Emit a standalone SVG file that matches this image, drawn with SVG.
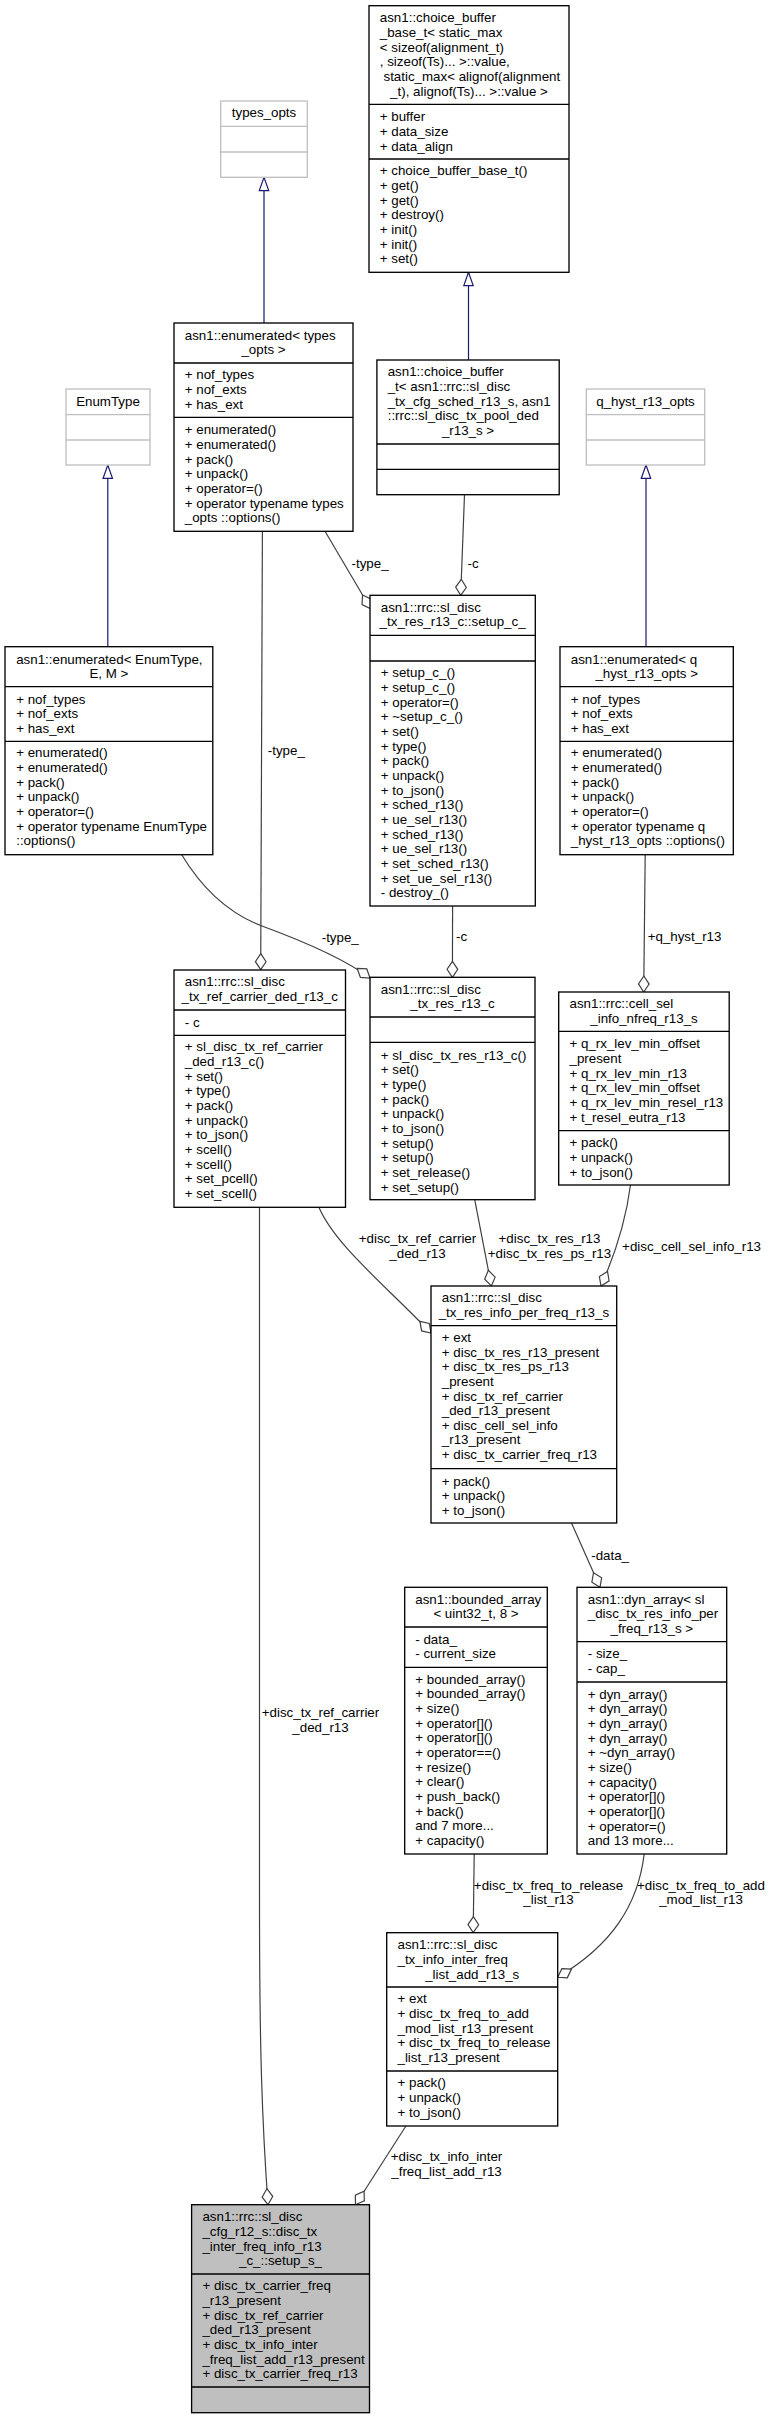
<svg xmlns="http://www.w3.org/2000/svg" width="772" height="2419" viewBox="0 0 772 2419">
<style>
text{font-family:"Liberation Sans",Arial,Helvetica,sans-serif;font-size:13.33px;fill:#000}
.m{text-anchor:middle}
.box{fill:#fff;stroke:#000;stroke-width:1.33}
.gbox{fill:#fff;stroke:#bfbfbf;stroke-width:1.33}
.sel{fill:#bfbfbf;stroke:#000;stroke-width:1.33}
.sep{stroke:#000;stroke-width:1.33}
.gsep{stroke:#bfbfbf;stroke-width:1.33}
.agg{fill:none;stroke:#404040;stroke-width:1.2;marker-end:url(#dia)}
.inh{fill:none;stroke:#191970;stroke-width:1.2;marker-end:url(#tri)}
</style>
<defs>
<marker id="dia" markerUnits="userSpaceOnUse" markerWidth="18" markerHeight="12" refX="16" refY="6" orient="auto" overflow="visible">
<path d="M0,6 L8,0.67 L16,6 L8,11.33 Z" fill="#fff" stroke="#404040" stroke-width="1.2"/>
</marker>
<marker id="tri" markerUnits="userSpaceOnUse" markerWidth="15" markerHeight="12" refX="13.3" refY="6" orient="auto" overflow="visible">
<path d="M0,1.3 L13.3,6 L0,10.7 Z" fill="#fff" stroke="#191970" stroke-width="1.2"/>
</marker>
</defs>
<rect width="772" height="2419" fill="#fff"/>

<g id="edges">
<path class="inh" d="M264,323 L264,177.3"/>
<path class="inh" d="M468.5,360 L468.5,272.3"/>
<path class="inh" d="M107.8,646.7 L107.8,465"/>
<path class="inh" d="M646,646.7 L646,465"/>
<path class="agg" d="M325,531.3 L370.7,608.7"/>
<path class="agg" d="M464.5,494.7 L460.7,595.3"/>
<path class="agg" d="M262.4,531.3 L260.7,969.7"/>
<path class="agg" d="M181.7,854.7 C200,885 225,912 262,926 C300,940 342,957 370,978"/>
<path class="agg" d="M452.6,906 L452.4,977.3"/>
<path class="agg" d="M645.2,854.7 L643.7,992"/>
<path class="agg" d="M318.9,1207.3 C335,1245 385,1285 431,1333"/>
<path class="agg" d="M474.7,1199.7 L491.4,1286"/>
<path class="agg" d="M630.5,1185 C626,1220 617,1250 601,1286"/>
<path class="agg" d="M571.5,1523 L600,1587.3"/>
<path class="agg" d="M259.5,1207.3 L259.5,1900 C259.5,2050 262,2120 268,2204.7"/>
<path class="agg" d="M474.2,1854 L473.2,1932.7"/>
<path class="agg" d="M644.2,1854 C638,1905 612,1945 557.7,1977.3"/>
<path class="agg" d="M405.9,2126 L355.5,2204.7"/>
<text x="351.5" y="567.8">-type_</text>
<text x="467.5" y="567.8">-c</text>
<text x="267.8" y="754.5">-type_</text>
<text x="321.7" y="942.2">-type_</text>
<text x="456" y="941.2">-c</text>
<text x="647.7" y="941.2">+q_hyst_r13</text>
<text class="m" x="417.5" y="1242.8">+disc_tx_ref_carrier</text>
<text class="m" x="417.5" y="1257.5">_ded_r13</text>
<text class="m" x="549.5" y="1242.8">+disc_tx_res_r13</text>
<text class="m" x="549.5" y="1257.5">+disc_tx_res_ps_r13</text>
<text x="622.1" y="1250.5">+disc_cell_sel_info_r13</text>
<text x="591.2" y="1559.5">-data_</text>
<text class="m" x="320.5" y="1717.2">+disc_tx_ref_carrier</text>
<text class="m" x="320.5" y="1731.9">_ded_r13</text>
<text class="m" x="548.5" y="1889.5">+disc_tx_freq_to_release</text>
<text class="m" x="548.5" y="1904.2">_list_r13</text>
<text class="m" x="701" y="1889.5">+disc_tx_freq_to_add</text>
<text class="m" x="701" y="1904.2">_mod_list_r13</text>
<text class="m" x="446.5" y="2161.2">+disc_tx_info_inter</text>
<text class="m" x="446.5" y="2175.9">_freq_list_add_r13</text>
</g>

<g id="choice_buffer_base">
<rect class="box" x="369" y="5.7" width="200" height="266.6"/>
<line class="sep" x1="369" y1="104.3" x2="569" y2="104.3"/>
<line class="sep" x1="369" y1="159" x2="569" y2="159"/>
<text x="379.8" y="22.2">asn1::choice_buffer</text>
<text x="379.8" y="36.8">_base_t&lt; static_max</text>
<text x="379.8" y="51.5">&lt; sizeof(alignment_t)</text>
<text x="379.8" y="66.2">, sizeof(Ts)... &gt;::value,</text>
<text x="383.5" y="80.8">static_max&lt; alignof(alignment</text>
<text class="m" x="469" y="95.5">_t), alignof(Ts)... &gt;::value &gt;</text>
<text x="379.8" y="121.2">+ buffer</text>
<text x="379.8" y="135.8">+ data_size</text>
<text x="379.8" y="150.5">+ data_align</text>
<text x="379.8" y="175.2">+ choice_buffer_base_t()</text>
<text x="379.8" y="189.9">+ get()</text>
<text x="379.8" y="204.5">+ get()</text>
<text x="379.8" y="219.2">+ destroy()</text>
<text x="379.8" y="233.9">+ init()</text>
<text x="379.8" y="248.5">+ init()</text>
<text x="379.8" y="263.2">+ set()</text>
</g>

<g id="types_opts">
<rect class="gbox" x="220.7" y="101" width="86.6" height="76.3"/>
<line class="gsep" x1="220.7" y1="126.3" x2="307.3" y2="126.3"/>
<line class="gsep" x1="220.7" y1="152" x2="307.3" y2="152"/>
<text class="m" x="264" y="117.2">types_opts</text>
</g>

<g id="enumerated_types_opts">
<rect class="box" x="174" y="323" width="179" height="208.3"/>
<line class="sep" x1="174" y1="363" x2="353" y2="363"/>
<line class="sep" x1="174" y1="417.3" x2="353" y2="417.3"/>
<text x="184.8" y="339.5">asn1::enumerated&lt; types</text>
<text class="m" x="263.5" y="354.2">_opts &gt;</text>
<text x="184.8" y="379.2">+ nof_types</text>
<text x="184.8" y="393.8">+ nof_exts</text>
<text x="184.8" y="408.5">+ has_ext</text>
<text x="184.8" y="434.2">+ enumerated()</text>
<text x="184.8" y="448.8">+ enumerated()</text>
<text x="184.8" y="463.5">+ pack()</text>
<text x="184.8" y="478.2">+ unpack()</text>
<text x="184.8" y="492.8">+ operator=()</text>
<text x="184.8" y="507.5">+ operator typename types</text>
<text x="184.8" y="522.2">_opts ::options()</text>
</g>

<g id="choice_buffer_t">
<rect class="box" x="376.9" y="360" width="182.3" height="134.7"/>
<line class="sep" x1="376.9" y1="444" x2="559.2" y2="444"/>
<line class="sep" x1="376.9" y1="469.3" x2="559.2" y2="469.3"/>
<text x="387.7" y="376.2">asn1::choice_buffer</text>
<text x="387.7" y="390.8">_t&lt; asn1::rrc::sl_disc</text>
<text x="387.7" y="405.5">_tx_cfg_sched_r13_s, asn1</text>
<text x="387.7" y="420.2">::rrc::sl_disc_tx_pool_ded</text>
<text class="m" x="468" y="434.8">_r13_s &gt;</text>
</g>

<g id="EnumType">
<rect class="gbox" x="66" y="389" width="84" height="76"/>
<line class="gsep" x1="66" y1="414.7" x2="150" y2="414.7"/>
<line class="gsep" x1="66" y1="440" x2="150" y2="440"/>
<text class="m" x="108" y="405.5">EnumType</text>
</g>

<g id="q_hyst_r13_opts">
<rect class="gbox" x="586.3" y="389" width="118.4" height="76"/>
<line class="gsep" x1="586.3" y1="414.7" x2="704.7" y2="414.7"/>
<line class="gsep" x1="586.3" y1="440" x2="704.7" y2="440"/>
<text class="m" x="645.5" y="405.5">q_hyst_r13_opts</text>
</g>

<g id="setup_c">
<rect class="box" x="370" y="595.3" width="165.3" height="310.7"/>
<line class="sep" x1="370" y1="635.3" x2="535.3" y2="635.3"/>
<line class="sep" x1="370" y1="661" x2="535.3" y2="661"/>
<text x="380.8" y="611.5">asn1::rrc::sl_disc</text>
<text class="m" x="452.6" y="626.2">_tx_res_r13_c::setup_c_</text>
<text x="380.8" y="677.2">+ setup_c_()</text>
<text x="380.8" y="691.9">+ setup_c_()</text>
<text x="380.8" y="706.5">+ operator=()</text>
<text x="380.8" y="721.2">+ ~setup_c_()</text>
<text x="380.8" y="735.9">+ set()</text>
<text x="380.8" y="750.5">+ type()</text>
<text x="380.8" y="765.2">+ pack()</text>
<text x="380.8" y="779.9">+ unpack()</text>
<text x="380.8" y="794.5">+ to_json()</text>
<text x="380.8" y="809.2">+ sched_r13()</text>
<text x="380.8" y="823.9">+ ue_sel_r13()</text>
<text x="380.8" y="838.5">+ sched_r13()</text>
<text x="380.8" y="853.2">+ ue_sel_r13()</text>
<text x="380.8" y="867.9">+ set_sched_r13()</text>
<text x="380.8" y="882.5">+ set_ue_sel_r13()</text>
<text x="380.8" y="897.2">- destroy_()</text>
</g>

<g id="enumerated_EnumType">
<rect class="box" x="5" y="646.7" width="207.8" height="208"/>
<line class="sep" x1="5" y1="686.7" x2="212.8" y2="686.7"/>
<line class="sep" x1="5" y1="741.3" x2="212.8" y2="741.3"/>
<text x="16.2" y="663.5">asn1::enumerated&lt; EnumType,</text>
<text class="m" x="108.9" y="678.2">E, M &gt;</text>
<text x="16.2" y="703.5">+ nof_types</text>
<text x="16.2" y="718.2">+ nof_exts</text>
<text x="16.2" y="732.8">+ has_ext</text>
<text x="16.2" y="757.2">+ enumerated()</text>
<text x="16.2" y="771.9">+ enumerated()</text>
<text x="16.2" y="786.5">+ pack()</text>
<text x="16.2" y="801.2">+ unpack()</text>
<text x="16.2" y="815.9">+ operator=()</text>
<text x="16.2" y="830.5">+ operator typename EnumType</text>
<text x="16.2" y="845.2">::options()</text>
</g>

<g id="enumerated_q_hyst">
<rect class="box" x="560" y="646.7" width="173.3" height="208"/>
<line class="sep" x1="560" y1="686.7" x2="733.3" y2="686.7"/>
<line class="sep" x1="560" y1="741.3" x2="733.3" y2="741.3"/>
<text x="570.8" y="663.5">asn1::enumerated&lt; q</text>
<text class="m" x="646.7" y="678.2">_hyst_r13_opts &gt;</text>
<text x="570.8" y="703.5">+ nof_types</text>
<text x="570.8" y="718.2">+ nof_exts</text>
<text x="570.8" y="732.8">+ has_ext</text>
<text x="570.8" y="757.2">+ enumerated()</text>
<text x="570.8" y="771.9">+ enumerated()</text>
<text x="570.8" y="786.5">+ pack()</text>
<text x="570.8" y="801.2">+ unpack()</text>
<text x="570.8" y="815.9">+ operator=()</text>
<text x="570.8" y="830.5">+ operator typename q</text>
<text x="570.8" y="845.2">_hyst_r13_opts ::options()</text>
</g>

<g id="tx_ref_carrier">
<rect class="box" x="174" y="970" width="171.5" height="237.3"/>
<line class="sep" x1="174" y1="1010" x2="345.5" y2="1010"/>
<line class="sep" x1="174" y1="1035.3" x2="345.5" y2="1035.3"/>
<text x="184.8" y="986.2">asn1::rrc::sl_disc</text>
<text class="m" x="259.7" y="1000.8">_tx_ref_carrier_ded_r13_c</text>
<text x="184.8" y="1026.5">- c</text>
<text x="184.8" y="1051.2">+ sl_disc_tx_ref_carrier</text>
<text x="184.8" y="1065.9">_ded_r13_c()</text>
<text x="184.8" y="1080.5">+ set()</text>
<text x="184.8" y="1095.2">+ type()</text>
<text x="184.8" y="1109.9">+ pack()</text>
<text x="184.8" y="1124.5">+ unpack()</text>
<text x="184.8" y="1139.2">+ to_json()</text>
<text x="184.8" y="1153.9">+ scell()</text>
<text x="184.8" y="1168.5">+ scell()</text>
<text x="184.8" y="1183.2">+ set_pcell()</text>
<text x="184.8" y="1197.9">+ set_scell()</text>
</g>

<g id="tx_res_r13_c">
<rect class="box" x="370" y="977.3" width="165" height="222.4"/>
<line class="sep" x1="370" y1="1017" x2="535" y2="1017"/>
<line class="sep" x1="370" y1="1042.3" x2="535" y2="1042.3"/>
<text x="380.8" y="993.5">asn1::rrc::sl_disc</text>
<text class="m" x="452.5" y="1008.2">_tx_res_r13_c</text>
<text x="380.8" y="1059.5">+ sl_disc_tx_res_r13_c()</text>
<text x="380.8" y="1074.2">+ set()</text>
<text x="380.8" y="1088.9">+ type()</text>
<text x="380.8" y="1103.5">+ pack()</text>
<text x="380.8" y="1118.2">+ unpack()</text>
<text x="380.8" y="1132.9">+ to_json()</text>
<text x="380.8" y="1147.5">+ setup()</text>
<text x="380.8" y="1162.2">+ setup()</text>
<text x="380.8" y="1176.9">+ set_release()</text>
<text x="380.8" y="1191.5">+ set_setup()</text>
</g>

<g id="cell_sel_info">
<rect class="box" x="558.7" y="992" width="170.5" height="193"/>
<line class="sep" x1="558.7" y1="1031.3" x2="729.2" y2="1031.3"/>
<line class="sep" x1="558.7" y1="1130.7" x2="729.2" y2="1130.7"/>
<text x="569.5" y="1008.2">asn1::rrc::cell_sel</text>
<text class="m" x="644" y="1022.8">_info_nfreq_r13_s</text>
<text x="569.5" y="1048.2">+ q_rx_lev_min_offset</text>
<text x="569.5" y="1062.9">_present</text>
<text x="569.5" y="1077.5">+ q_rx_lev_min_r13</text>
<text x="569.5" y="1092.2">+ q_rx_lev_min_offset</text>
<text x="569.5" y="1106.9">+ q_rx_lev_min_resel_r13</text>
<text x="569.5" y="1121.5">+ t_resel_eutra_r13</text>
<text x="569.5" y="1147.2">+ pack()</text>
<text x="569.5" y="1161.9">+ unpack()</text>
<text x="569.5" y="1176.5">+ to_json()</text>
</g>

<g id="per_freq">
<rect class="box" x="431" y="1286" width="185.7" height="237"/>
<line class="sep" x1="431" y1="1325.7" x2="616.7" y2="1325.7"/>
<line class="sep" x1="431" y1="1468.7" x2="616.7" y2="1468.7"/>
<text x="441.8" y="1302.2">asn1::rrc::sl_disc</text>
<text class="m" x="523.9" y="1316.8">_tx_res_info_per_freq_r13_s</text>
<text x="441.8" y="1342.2">+ ext</text>
<text x="441.8" y="1356.8">+ disc_tx_res_r13_present</text>
<text x="441.8" y="1371.4">+ disc_tx_res_ps_r13</text>
<text x="441.8" y="1386">_present</text>
<text x="441.8" y="1400.6">+ disc_tx_ref_carrier</text>
<text x="441.8" y="1415.2">_ded_r13_present</text>
<text x="441.8" y="1429.8">+ disc_cell_sel_info</text>
<text x="441.8" y="1444.4">_r13_present</text>
<text x="441.8" y="1459">+ disc_tx_carrier_freq_r13</text>
<text x="441.8" y="1485.5">+ pack()</text>
<text x="441.8" y="1500.2">+ unpack()</text>
<text x="441.8" y="1514.8">+ to_json()</text>
</g>

<g id="bounded_array">
<rect class="box" x="404.7" y="1587.3" width="142.6" height="266.7"/>
<line class="sep" x1="404.7" y1="1627" x2="547.3" y2="1627"/>
<line class="sep" x1="404.7" y1="1667.3" x2="547.3" y2="1667.3"/>
<text x="415.3" y="1603.5">asn1::bounded_array</text>
<text class="m" x="476" y="1618.2">&lt; uint32_t, 8 &gt;</text>
<text x="415.3" y="1643.5">- data_</text>
<text x="415.3" y="1658.2">- current_size</text>
<text x="415.3" y="1683.5">+ bounded_array()</text>
<text x="415.3" y="1698.2">+ bounded_array()</text>
<text x="415.3" y="1712.9">+ size()</text>
<text x="415.3" y="1727.5">+ operator[]()</text>
<text x="415.3" y="1742.2">+ operator[]()</text>
<text x="415.3" y="1756.9">+ operator==()</text>
<text x="415.3" y="1771.5">+ resize()</text>
<text x="415.3" y="1786.2">+ clear()</text>
<text x="415.3" y="1800.9">+ push_back()</text>
<text x="415.3" y="1815.5">+ back()</text>
<text x="415.3" y="1830.2">and 7 more...</text>
<text x="415.3" y="1844.9">+ capacity()</text>
</g>

<g id="dyn_array">
<rect class="box" x="577" y="1587.3" width="149.7" height="266.7"/>
<line class="sep" x1="577" y1="1641.7" x2="726.7" y2="1641.7"/>
<line class="sep" x1="577" y1="1682" x2="726.7" y2="1682"/>
<text x="587.8" y="1603.5">asn1::dyn_array&lt; sl</text>
<text x="587.8" y="1618.2">_disc_tx_res_info_per</text>
<text class="m" x="651.8" y="1632.8">_freq_r13_s &gt;</text>
<text x="587.8" y="1658.2">- size_</text>
<text x="587.8" y="1672.8">- cap_</text>
<text x="587.8" y="1698.5">+ dyn_array()</text>
<text x="587.8" y="1713.2">+ dyn_array()</text>
<text x="587.8" y="1727.9">+ dyn_array()</text>
<text x="587.8" y="1742.5">+ dyn_array()</text>
<text x="587.8" y="1757.2">+ ~dyn_array()</text>
<text x="587.8" y="1771.9">+ size()</text>
<text x="587.8" y="1786.5">+ capacity()</text>
<text x="587.8" y="1801.2">+ operator[]()</text>
<text x="587.8" y="1815.9">+ operator[]()</text>
<text x="587.8" y="1830.5">+ operator=()</text>
<text x="587.8" y="1845.2">and 13 more...</text>
</g>

<g id="info_inter_freq">
<rect class="box" x="386.7" y="1932.7" width="171" height="193.3"/>
<line class="sep" x1="386.7" y1="1987" x2="557.7" y2="1987"/>
<line class="sep" x1="386.7" y1="2071" x2="557.7" y2="2071"/>
<text x="397.5" y="1949.2">asn1::rrc::sl_disc</text>
<text x="397.5" y="1963.9">_tx_info_inter_freq</text>
<text class="m" x="472.2" y="1978.5">_list_add_r13_s</text>
<text x="397.5" y="2003.2">+ ext</text>
<text x="397.5" y="2017.9">+ disc_tx_freq_to_add</text>
<text x="397.5" y="2032.5">_mod_list_r13_present</text>
<text x="397.5" y="2047.2">+ disc_tx_freq_to_release</text>
<text x="397.5" y="2061.9">_list_r13_present</text>
<text x="397.5" y="2087.2">+ pack()</text>
<text x="397.5" y="2101.9">+ unpack()</text>
<text x="397.5" y="2116.5">+ to_json()</text>
</g>

<g id="setup_s">
<rect class="sel" x="191.6" y="2204.7" width="177.9" height="208"/>
<line class="sep" x1="191.6" y1="2274" x2="369.5" y2="2274"/>
<line class="sep" x1="191.6" y1="2387" x2="369.5" y2="2387"/>
<text x="202.4" y="2221.2">asn1::rrc::sl_disc</text>
<text x="202.4" y="2235.9">_cfg_r12_s::disc_tx</text>
<text x="202.4" y="2250.5">_inter_freq_info_r13</text>
<text class="m" x="280.5" y="2265.2">_c_::setup_s_</text>
<text x="202.4" y="2290.2">+ disc_tx_carrier_freq</text>
<text x="202.4" y="2304.9">_r13_present</text>
<text x="202.4" y="2319.5">+ disc_tx_ref_carrier</text>
<text x="202.4" y="2334.2">_ded_r13_present</text>
<text x="202.4" y="2348.9">+ disc_tx_info_inter</text>
<text x="202.4" y="2363.5">_freq_list_add_r13_present</text>
<text x="202.4" y="2378.2">+ disc_tx_carrier_freq_r13</text>
</g>
</svg>
